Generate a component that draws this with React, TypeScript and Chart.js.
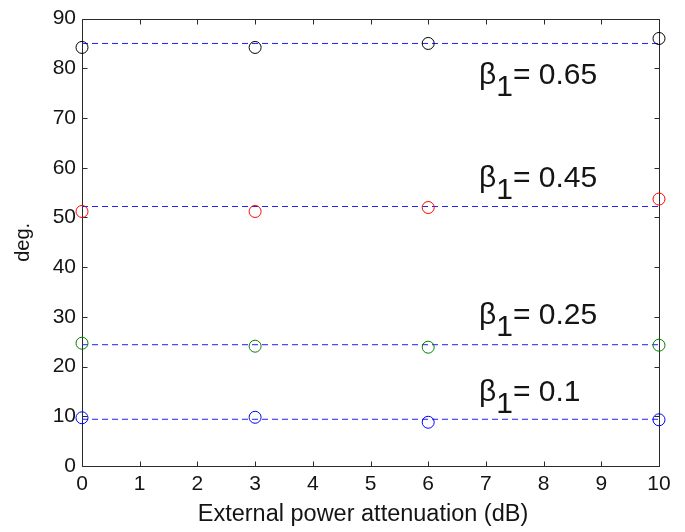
import React, { useEffect, useRef } from "react";
import { Chart, registerables } from "chart.js";

Chart.register(...registerables);

// ---- data ----
const xValues = [0, 3, 6, 10];
const beta065 = [84.2, 84.2, 85.0, 86.0];
const beta045 = [51.2, 51.2, 52.0, 53.7];
const beta025 = [24.7, 24.1, 23.9, 24.3];
const beta010 = [9.7, 9.8, 8.8, 9.3];
const seriesValues = [beta065, beta045, beta025, beta010];
const refLevels = [85.0, 52.2, 24.4, 9.4];
const labelValues = ["0.65", "0.45", "0.25", "0.1"];
const labelX = 6.88;
const labelY = [76.9, 56.2, 28.5, 13.1];
const markerColors = ["#000000", "#ff0000", "#008000", "#0000ff"];
const refLineColor = "#1f1fff";
const xMin = 0, xMax = 10, xStep = 1;
const yMin = 0, yMax = 90, yStep = 10;
const xTitle = "External power attenuation (dB)";
const yTitle = "deg.";

const FONT = "'Liberation Sans', Arial, Helvetica, sans-serif";
const TEXT = "#141414";
const AXIS = "#2a2a2a";

const framePlugin = {
  id: "frame",
  beforeDatasetsDraw(chart: any) {
    const { ctx, chartArea } = chart;
    const { left, right, top, bottom } = chartArea;
    const xs = chart.scales.x;
    const ys = chart.scales.y;
    ctx.save();
    ctx.setLineDash([]);
    ctx.strokeStyle = AXIS;
    ctx.lineWidth = 1;
    ctx.beginPath();
    const L = Math.round(left) + 0.5, R = Math.round(right) + 0.5;
    const T = Math.round(top) + 0.5, B = Math.round(bottom) + 0.5;
    ctx.moveTo(L, T); ctx.lineTo(R, T); ctx.lineTo(R, B); ctx.lineTo(L, B); ctx.closePath();
    const tl = 5;
    for (let v = xMin; v <= xMax; v += xStep) {
      const px = Math.round(xs.getPixelForValue(v)) + 0.5;
      ctx.moveTo(px, B); ctx.lineTo(px, B - tl);
      ctx.moveTo(px, T); ctx.lineTo(px, T + tl);
    }
    for (let v = yMin; v <= yMax; v += yStep) {
      const py = Math.round(ys.getPixelForValue(v)) + 0.5;
      ctx.moveTo(L, py); ctx.lineTo(L + tl, py);
      ctx.moveTo(R, py); ctx.lineTo(R - tl, py);
    }
    ctx.stroke();
    ctx.restore();
  },
};

const labelPlugin = {
  id: "betaLabels",
  afterDatasetsDraw(chart: any) {
    const { ctx } = chart;
    const xs = chart.scales.x;
    const ys = chart.scales.y;
    ctx.save();
    ctx.fillStyle = TEXT;
    ctx.font = `30px ${FONT}`;
    ctx.textBaseline = "alphabetic";
    ctx.textAlign = "left";
    labelValues.forEach((val, i) => {
      let x = xs.getPixelForValue(labelX);
      const y = ys.getPixelForValue(labelY[i]);
      ctx.fillText("\u03B2", x, y);
      x += ctx.measureText("\u03B2").width;
      ctx.fillText("1", x, y + 12);
      x += ctx.measureText("1").width;
      ctx.fillText("= " + val, x, y);
    });
    // x axis title
    ctx.font = `23.5px ${FONT}`;
    ctx.textAlign = "center";
    ctx.textBaseline = "middle";
    ctx.fillText(xTitle, 363, 515);
    ctx.restore();
  },
};

export default function App() {
  const ref = useRef<HTMLCanvasElement | null>(null);
  useEffect(() => {
    if (!ref.current) return;
    const datasets: any[] = [];
    seriesValues.forEach((vals, i) => {
      datasets.push({
        type: "scatter",
        data: xValues.map((x, j) => ({ x, y: vals[j] })),
        showLine: false,
        pointStyle: "circle",
        pointRadius: 6,
        pointBorderWidth: 1,
        borderColor: markerColors[i],
        backgroundColor: "rgba(0,0,0,0)",
        pointBackgroundColor: "rgba(0,0,0,0)",
        pointBorderColor: markerColors[i],
        clip: false,
        order: 1,
      });
    });
    const refPoints: any[] = [];
    refLevels.forEach((lvl, i) => {
      if (i > 0) refPoints.push({ x: xMax, y: null });
      refPoints.push({ x: xMin, y: lvl }, { x: xMax, y: lvl });
    });
    datasets.push({
      type: "line",
      data: refPoints,
      spanGaps: false,
      borderColor: refLineColor,
      backgroundColor: refLineColor,
      borderWidth: 1,
      borderDash: [6, 4],
      pointRadius: 0,
      fill: false,
      clip: false,
      order: 2,
    });
    const chart = new Chart(ref.current, {
      type: "scatter",
      data: { datasets },
      options: {
        animation: false,
        responsive: false,
        maintainAspectRatio: false,
        layout: { padding: { top: 14, right: 26, left: 0, bottom: 0 } },
        plugins: { legend: { display: false }, tooltip: { enabled: false } },
        scales: {
          x: {
            type: "linear",
            min: xMin,
            max: xMax,
            afterFit: (s: any) => { s.height = 66; },
            ticks: { stepSize: xStep, color: TEXT, font: { family: FONT, size: 21 }, padding: 6, maxRotation: 0 },
            grid: { display: false, drawTicks: false },
            border: { display: false },
            title: { display: false },
          },
          y: {
            type: "linear",
            min: yMin,
            max: yMax,
            afterFit: (s: any) => { s.width = 82; },
            ticks: { stepSize: yStep, color: TEXT, font: { family: FONT, size: 21 }, padding: 6 },
            grid: { display: false, drawTicks: false },
            border: { display: false },
            title: { display: true, text: yTitle, color: TEXT, font: { family: FONT, size: 20 }, padding: { top: 11, bottom: 0 } },
          },
        },
      },
      plugins: [framePlugin, labelPlugin],
    } as any);
    return () => chart.destroy();
  }, []);
  return (
    <div style={{ position: "absolute", left: 0, top: 0, width: 685, height: 532, background: "#fff" }}>
      <canvas ref={ref} width={685} height={532} style={{ display: "block" }} />
    </div>
  );
}
